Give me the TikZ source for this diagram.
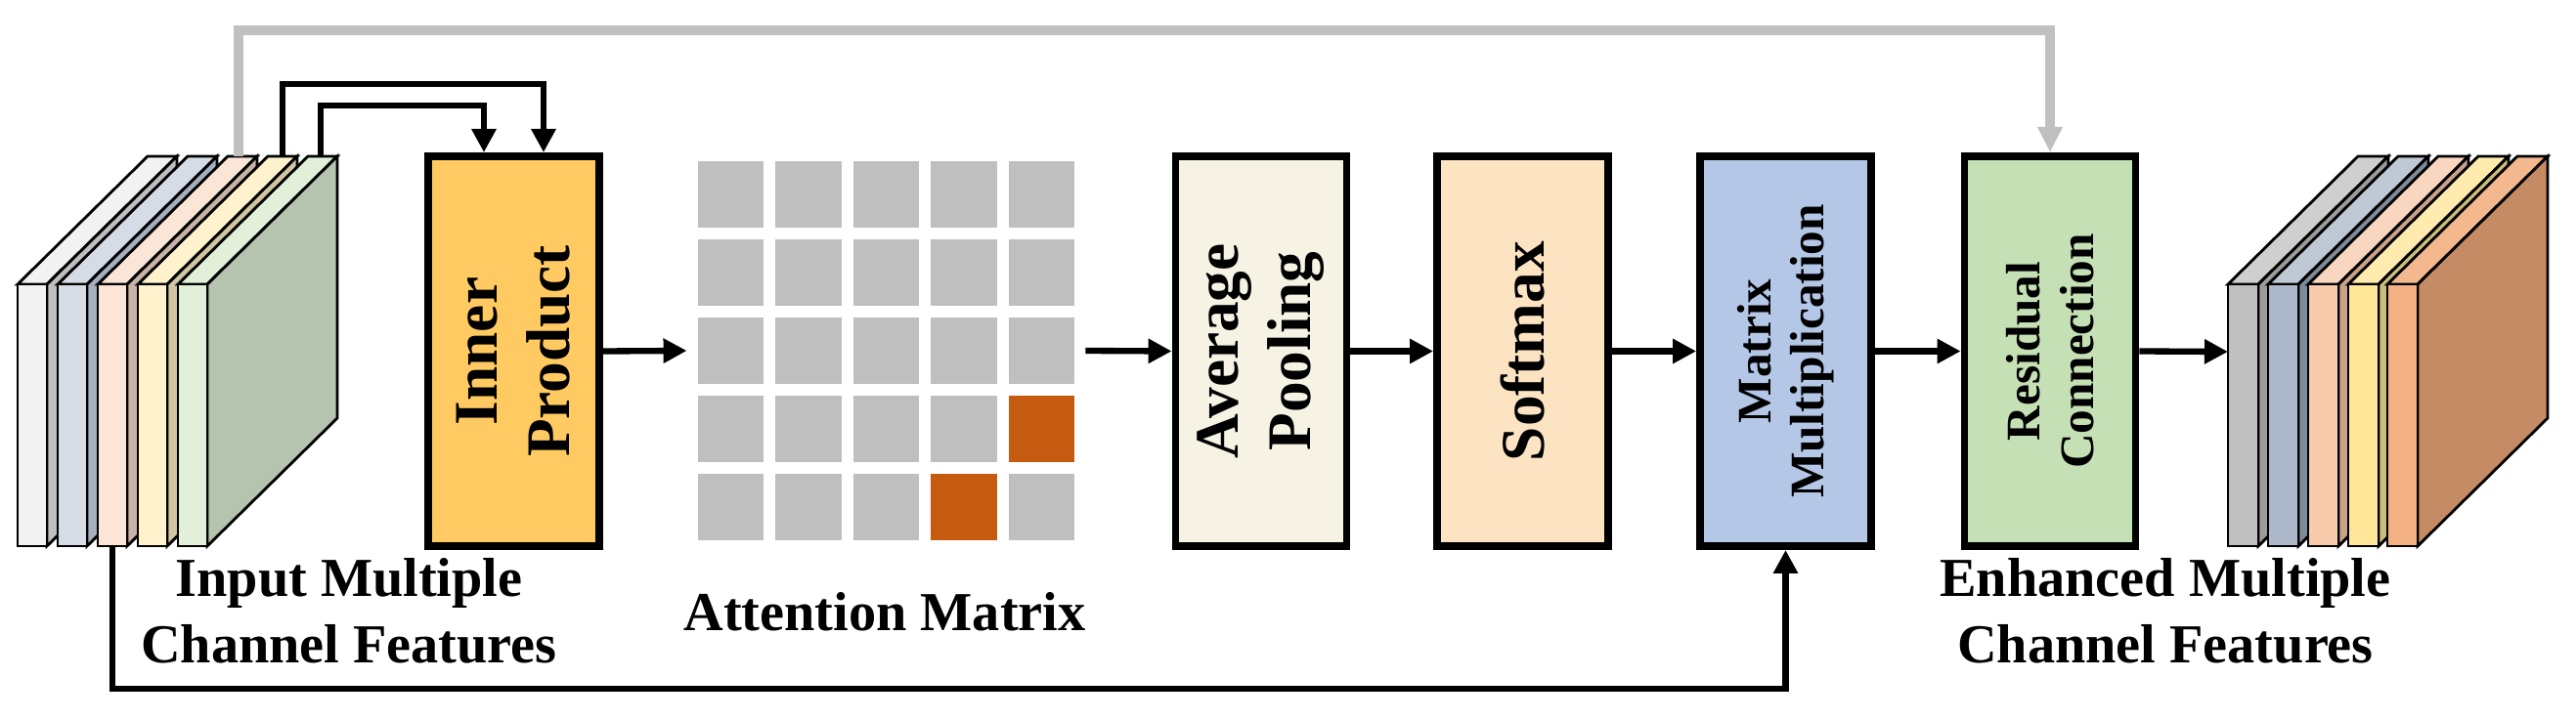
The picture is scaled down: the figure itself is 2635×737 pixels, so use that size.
\documentclass[tikz,border=0pt]{standalone}
\usepackage{fontspec}
\setmainfont{Liberation Serif}
\usetikzlibrary{arrows.meta,fit}

\definecolor{ipfill}{HTML}{FFCA61}
\definecolor{apfill}{HTML}{F6F3E5}
\definecolor{smfill}{HTML}{FCE4C3}
\definecolor{mmfill}{HTML}{B4C7E7}
\definecolor{rcfill}{HTML}{C5E0B4}
\definecolor{cellgray}{HTML}{BFBFBF}
\definecolor{cellhot}{HTML}{C55A11}
\definecolor{resgray}{HTML}{C0C0C0}

% one slab of a feature stack: x, width, front, side, top (hex codes)
\newcommand{\featslab}[5]{
  \definecolor{slabfront}{HTML}{#3}
  \definecolor{slabside}{HTML}{#4}
  \definecolor{slabtop}{HTML}{#5}
  \draw[line width=0.8pt,fill=slabtop] (#1,291) -- ++(#2,0) -- ++(133,-131) -- ++(-#2,0) -- cycle;
  \draw[line width=0.8pt,fill=slabside] (#1+#2,291) -- ++(133,-131) -- ++(0,268) -- ++(-133,131) -- cycle;
  \draw[line width=0.8pt,fill=slabfront] (#1,291) rectangle ++(#2,268);
}

\tikzset{
  block/.style={draw,line width=2.2pt,rotate=90,minimum width=3.99cm,minimum height=1.75cm,
    align=center,font=\fontsize{18}{21}\selectfont\bfseries},
  smallblock/.style={block,font=\fontsize{14}{15.5}\selectfont\bfseries},
  cell/.style={fill=cellgray,minimum width=0.67cm,minimum height=0.68cm,inner sep=0pt},
  flow/.style={line width=1.8pt,-{Triangle[length=0.24cm,width=0.24cm]}},
  resflow/.style={line width=2.6pt,draw=resgray,-{Triangle[length=0.26cm,width=0.24cm]}},
  caption/.style={font=\fontsize{16}{19}\selectfont\bfseries,anchor=base}
}

\begin{document}
\begin{tikzpicture}[x=0.01cm,y=-0.01cm]
\useasboundingbox (0,0) rectangle (2635,737);

% input features
\featslab{18}{30}{F2F2F2}{BFBFBF}{F2F2F2}
\featslab{59}{30}{D6DCE5}{A6AFBD}{D6DCE5}
\featslab{100}{30}{FBE5D6}{C9B3A6}{FBE5D6}
\featslab{141}{30}{FFF2CC}{D1C6A3}{FFF2CC}
\featslab{182}{30}{E2F0D9}{B5C4AE}{E2F0D9}
\coordinate (inres) at (244,160);
\coordinate (inA) at (289,160);
\coordinate (inB) at (328,160);
\coordinate (inC) at (115,559);

% enhanced features
\featslab{2279}{31}{BFBFBF}{9C9C9C}{CFCFCF}
\featslab{2320}{31}{ADB9CA}{7F8B99}{BFC9D6}
\featslab{2361}{31}{F8CBAD}{C9A28A}{F9D6BF}
\featslab{2402}{31}{FFE699}{CDBD7A}{FFEBAE}
\featslab{2442}{31}{F4B183}{C48B65}{F4B88E}
\coordinate (out) at (2279,360);

% blocks
\node[block,fill=ipfill] (ip) at (525.5,359.5) {Inner\\Product};
\node[block,fill=apfill] (ap) at (1290,359.5) {Average\\Pooling};
\node[block,fill=smfill] (sm) at (1557.5,359.5) {Softmax};
\node[smallblock,fill=mmfill] (mm) at (1826.5,359.5) {Matrix\\Multiplication};
\node[smallblock,fill=rcfill] (rc) at (2097,359.5) {Residual\\Connection};

% attention matrix
\foreach \r in {0,...,4}
  \foreach \c in {0,...,4}
    \node[cell] (cell-\r-\c) at (747.5+79.5*\c,199+80*\r) {};
\node[cell,fill=cellhot] at (cell-3-4) {};
\node[cell,fill=cellhot] at (cell-4-3) {};
\node[fit=(cell-0-0)(cell-4-4),inner sep=0.1cm] (attn) {};

% connections
\draw[resflow] (inres) |- (2097,31) -- (rc.east);
\draw[flow] (inA) |- (556,86) -- (ip.east -| 556,0);
\draw[flow] (inB) |- (495,108) -- (ip.east -| 495,0);
\draw[flow] (inC) |- (1826.5,705) -- (mm.west);
\draw[flow] (ip.south) -- (attn.west);
\draw[flow] (attn.east) -- (ap.north);
\draw[flow] (ap.south) -- (sm.north);
\draw[flow] (sm.south) -- (mm.north);
\draw[flow] (mm.south) -- (rc.north);
\draw[flow] (rc.south) -- (out);

% captions
\node[caption] (inlab1) at (357,611) {Input Multiple};
\node[caption] (inlab2) at (357,679) {Channel Features};
\node[caption] (attlab) at (905,646) {Attention Matrix};
\node[caption] (outlab1) at (2215,611) {Enhanced Multiple};
\node[caption] (outlab2) at (2215,679) {Channel Features};
\end{tikzpicture}
\end{document}
